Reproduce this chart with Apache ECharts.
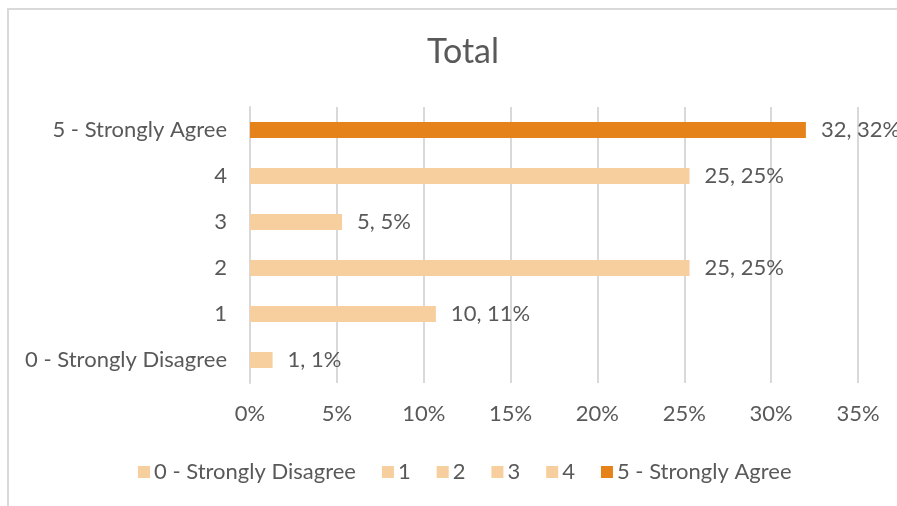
<!DOCTYPE html>
<html>
<head>
<meta charset="utf-8">
<script src="https://cdn.jsdelivr.net/npm/echarts@6/dist/echarts.min.js"></script>
<style>
  html, body { margin: 0; padding: 0; background: #ffffff; }
  #chart { width: 897px; height: 506px; }
</style>
</head>
<body>
<div id="chart"></div>
<script>
// Response categories, bottom to top
const categories = ['0 - Strongly Disagree', '1', '2', '3', '4', '5 - Strongly Agree'];
// Share of responses per category (%), drives bar length
const percents = [1.3, 10.7, 25.3, 5.3, 25.3, 32.0];
// Count shown in each data label
const counts = [1, 10, 25, 5, 25, 32];
// Bar fill per category
const colors = ['#F7CE9E', '#F7CE9E', '#F7CE9E', '#F7CE9E', '#F7CE9E', '#E5821A'];
// X axis ticks
const tickMax = 35;
const tickStep = 5;

const FONT = 'Lato';
const GREY = '#595959';
const TXT = 22;

const chart = echarts.init(document.getElementById('chart'));

// One series per category so each gets its own legend entry;
// the series overlap fully so every bar sits on its own row.
const series = categories.map((name, i) => ({
  name: name,
  type: 'bar',
  barWidth: 16,
  barGap: '-100%',
  itemStyle: { color: colors[i] },
  label: {
    show: true,
    position: 'right',
    distance: 15,
    color: GREY,
    fontFamily: FONT,
    fontSize: TXT,
    formatter: () => counts[i] + ', ' + Math.round(percents[i]) + '%'
  },
  data: categories.map((_, j) => (j === i ? percents[i] : '-'))
}));

chart.setOption({
  animation: false,
  backgroundColor: '#ffffff',
  title: {
    text: 'Total',
    left: 458,
    top: 30,
    textAlign: 'center',
    textStyle: { color: GREY, fontFamily: FONT, fontSize: 34, fontWeight: 'normal' }
  },
  graphic: [{
    type: 'rect',
    shape: { x: 8, y: 9, width: 1200, height: 1200 },
    style: { fill: 'none', stroke: '#D9D9D9', lineWidth: 2 },
    silent: true,
    z: -1
  }],
  legend: {
    left: 133,
    top: 456,
    icon: 'rect',
    itemWidth: 12,
    itemHeight: 12,
    itemGap: 26,
    textStyle: { color: GREY, fontFamily: FONT, fontSize: TXT, padding: [0, 0, 0, -1] },
    data: categories
  },
  grid: { left: 250, right: 39, top: 107, bottom: 123 },
  xAxis: {
    type: 'value',
    min: 0,
    max: tickMax,
    interval: tickStep,
    axisLine: { show: false },
    axisTick: { show: false },
    axisLabel: {
      color: GREY, fontFamily: FONT, fontSize: TXT, margin: 20,
      formatter: '{value}%'
    },
    splitLine: { lineStyle: { color: '#D9D9D9', width: 2 } }
  },
  yAxis: {
    type: 'category',
    data: categories,
    axisLine: { show: true, lineStyle: { color: '#D9D9D9', width: 2 } },
    axisTick: { show: false },
    axisLabel: { color: GREY, fontFamily: FONT, fontSize: TXT, margin: 23 }
  },
  series: series
});
</script>
</body>
</html>
